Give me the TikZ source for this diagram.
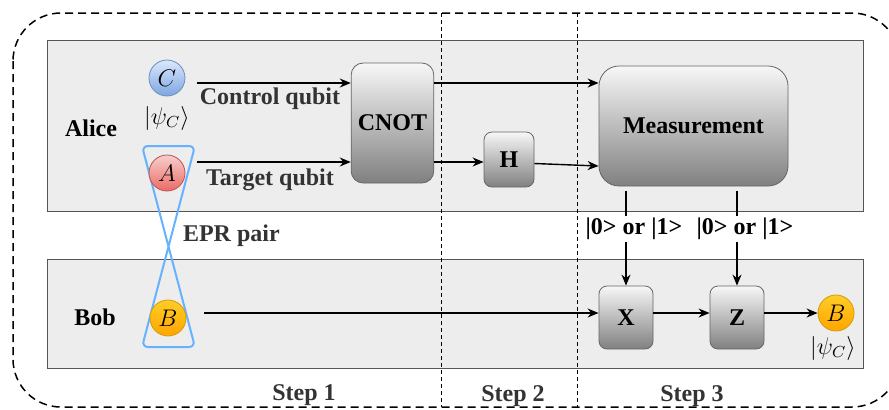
\documentclass[tikz,border=0pt]{standalone}
\usepackage{amsmath}
\usepackage{fontspec}
\setmainfont{Liberation Serif}
\usetikzlibrary{arrows.meta, positioning}

\definecolor{panelgray}{HTML}{EDEDED}
\definecolor{panelline}{HTML}{555555}
\definecolor{gatetop}{HTML}{F7F7F7}
\definecolor{gatebottom}{HTML}{808080}
\definecolor{gateline}{HTML}{666666}
\definecolor{labelgray}{HTML}{333333}
\definecolor{eprblue}{HTML}{66B2FF}
\definecolor{ctop}{HTML}{DAE8FC}
\definecolor{cbottom}{HTML}{7EA6E0}
\definecolor{cline}{HTML}{6C8EBF}
\definecolor{atop}{HTML}{F8CECC}
\definecolor{abottom}{HTML}{EA6B66}
\definecolor{aline}{HTML}{B85450}
\definecolor{btop}{HTML}{FFCD28}
\definecolor{bbottom}{HTML}{FFA500}
\definecolor{bline}{HTML}{D79B00}

\begin{document}
\begin{tikzpicture}[x=0.5pt, y=-0.5pt, every node/.style={font=\fontsize{12}{14}\selectfont}]
    % Styles for panels, gates, qubits and arrows
    \tikzstyle{panel} = [draw=panelline, fill=panelgray, line width=0.5pt]
    \tikzstyle{gate} = [rectangle, draw=gateline, top color=gatetop, bottom color=gatebottom, rounded corners=4pt, line width=0.4pt, font=\fontsize{12}{14}\selectfont\bfseries]
    \tikzstyle{qubit} = [circle, minimum size=18pt, inner sep=0pt, line width=0.4pt]
    \tikzstyle{qlabel} = [text=labelgray, font=\fontsize{12}{14}\selectfont\bfseries]
    \tikzstyle{arrow} = [line width=0.7pt, -{Stealth[length=5.5pt, width=4.5pt]}]
    \tikzstyle{stepline} = [line width=0.4pt, dash pattern=on 2pt off 1.5pt]

    \clip (0,0) rectangle (889,409);

    % Frame, panels and steps
    \draw[line width=0.75pt, dash pattern=on 4pt off 2.5pt, rounded corners=24pt] (13,13) rectangle (900,407);
    \draw[panel] (47,40) rectangle (863,211);
    \draw[panel] (47,259) rectangle (863,368);
    \draw[stepline] (441,13) -- (441,407);
    \draw[stepline] (577,13) -- (577,407);

    % EPR pair
    \draw[eprblue, line width=1pt, rounded corners=3pt] (142,146) -- (195,146) -- (142,347) -- (195,347) -- cycle;

    % Nodes
    \node[font=\fontsize{12}{14}\selectfont\bfseries] (alice) at (91,128) {Alice};
    \node[font=\fontsize{12}{14}\selectfont\bfseries] (bob) at (95,317) {Bob};
    \node[qubit, draw=cline, top color=ctop, bottom color=cbottom] (qC) at (167,78) {$C$};
    \node (psiC) at (167,118) {$|\psi_C\rangle$};
    \node[qubit, draw=aline, top color=atop, bottom color=abottom] (qA) at (167,173) {$A$};
    \node[qubit, draw=bline, top color=btop, bottom color=bbottom] (qB) at (168,318) {$B$};
    \node[qubit, draw=bline, top color=btop, bottom color=bbottom] (qBout) at (836,313) {$B$};
    \node (psiB) at (833,348) {$|\psi_C\rangle$};

    \node[gate, minimum width=38.5pt, minimum height=60pt, rounded corners=6pt] (cnot) at (392.5,123) {CNOT};
    \node[gate, minimum width=94.5pt, minimum height=60pt, rounded corners=10pt] (meas) at (693.5,126) {Measurement};
    \node[gate, minimum width=25pt, minimum height=27.5pt] (had) at (509,159.5) {H};
    \node[gate, minimum width=27pt, minimum height=31.5pt] (gx) at (626,317.5) {X};
    \node[gate, minimum width=27pt, minimum height=31.5pt] (gz) at (737,317.5) {Z};

    % Text labels
    \node[qlabel] (ctrl) at (270,99) {Control qubit};
    \node[qlabel] (tgt) at (270,180) {Target qubit};
    \node[qlabel, anchor=west] (epr) at (176,236) {EPR pair};
    \node[qlabel] (step1) at (304,395) {Step 1};
    \node[qlabel] (step2) at (513,396) {Step 2};
    \node[qlabel] (step3) at (692,396) {Step 3};

    % Arrows
    \draw[arrow] ([xshift=6pt,yshift=-2.5pt]qC.east) -- ([yshift=-2.5pt]qC.east -| cnot.west);
    \draw[arrow] ([xshift=6pt,yshift=5.5pt]qA.east) -- ([yshift=5.5pt]qA.east -| cnot.west);
    \draw[arrow] ([yshift=20pt]cnot.east) -- ([yshift=20pt]cnot.east -| meas.west);
    \draw[arrow] ([yshift=-19.5pt]cnot.east) -- ([yshift=-19.5pt]cnot.east -| had.west);
    \draw[arrow] ([yshift=-2pt]had.east) -- ([yshift=-20pt]meas.west);
    \draw[arrow, shorten <=2.5pt] (meas.south -| gx.north) -- node[pos=0.43, fill=white, inner sep=1pt, xshift=4pt, font=\fontsize{12}{14}\selectfont\bfseries] {|0> or |1>} (gx.north);
    \draw[arrow, shorten <=2.5pt] (meas.south -| gz.north) -- node[pos=0.43, fill=white, inner sep=1pt, xshift=4pt, font=\fontsize{12}{14}\selectfont\bfseries] {|0> or |1>} (gz.north);
    \draw[arrow] ([xshift=9pt,yshift=2.5pt]qB.east) -- ([yshift=2.5pt]qB.east -| gx.west);
    \draw[arrow] ([yshift=2.25pt]gx.east) -- ([yshift=2.25pt]gz.west);
    \draw[arrow] ([yshift=2.25pt]gz.east) -- (qBout.west);
\end{tikzpicture}
\end{document}
